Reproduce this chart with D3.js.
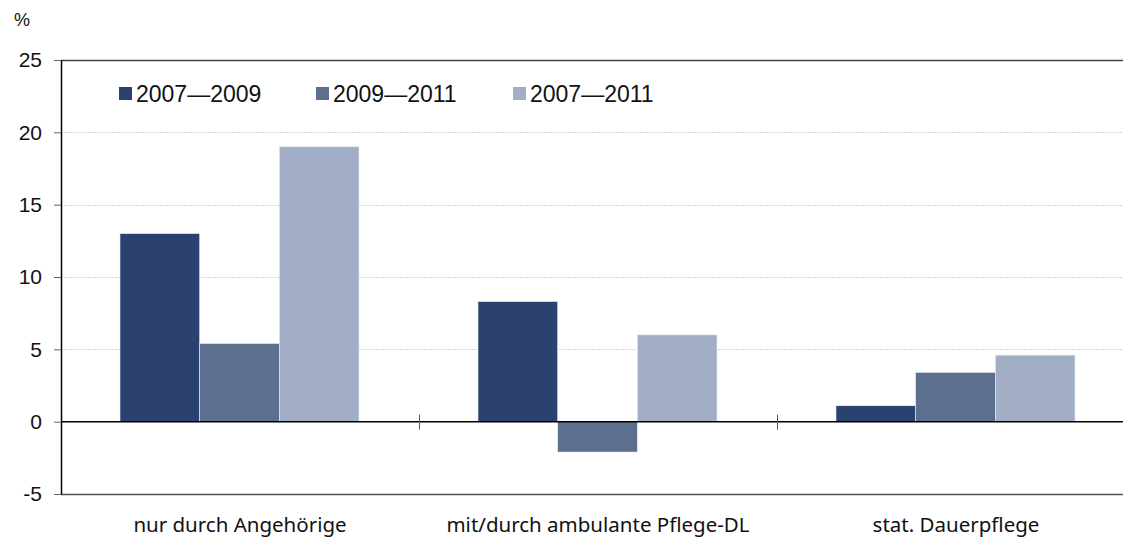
<!DOCTYPE html>
<html lang="de">
<head>
<meta charset="UTF-8">
<title>Veränderung nach Versorgungsart</title>
<style>
  body { margin: 0; background: #fff; }
  svg { display: block; }
  .tick text { font-family: "Liberation Sans", Arial, sans-serif; }
</style>
</head>
<body>
<svg width="1123" height="538"></svg>
<script src="https://d3js.org/d3.v7.min.js"></script>
<script>

var categories = ["nur durch Angehörige", "mit/durch ambulante Pflege-DL", "stat. Dauerpflege"];
var seriesNames = ["2007\u20142009", "2009\u20142011", "2007\u20142011"];
var values0709 = [13.0, 8.3, 1.1];
var values0911 = [5.4, -2.1, 3.4];
var values0711 = [19.0, 6.0, 4.6];
var yTicks = [-5, 0, 5, 10, 15, 20, 25];
var colors = ["#2b4170", "#5d6f8f", "#a2aec5"];

var svg = d3.select("svg");
var plotL = 61, plotR = 1135, plotT = 60, plotB = 494;

var x = d3.scaleBand().domain(categories).range([plotL, plotR]).paddingInner(0).paddingOuter(0);
var x1 = d3.scaleBand().domain(seriesNames).range([59, 298]);   // bars inside each group
var y = d3.scaleLinear().domain([-5, 25]).range([plotB, plotT]);

var rows = categories.map(function(c, i) {
    return { cat: c, vals: [values0709[i], values0911[i], values0711[i]] };
});

// dotted grid
svg.append("g").selectAll("line")
    .data([5, 10, 15, 20])
    .enter().append("line")
    .attr("x1", plotL).attr("x2", plotR)
    .attr("y1", function(d) { return Math.round(y(d)) + 0.5; })
    .attr("y2", function(d) { return Math.round(y(d)) + 0.5; })
    .attr("stroke", "#d4d4d4")
    .attr("stroke-dasharray", "2,1");

// bars
var groups = svg.append("g").selectAll("g")
    .data(rows)
    .enter().append("g")
    .attr("transform", function(d) { return "translate(" + x(d.cat) + ",0)"; });

groups.selectAll("rect")
    .data(function(d) { return d.vals.map(function(v, j) { return { s: seriesNames[j], v: v, j: j }; }); })
    .enter().append("rect")
    .attr("x", function(d) { return x1(d.s); })
    .attr("width", x1.bandwidth())
    .attr("y", function(d) { return y(Math.max(0, d.v)); })
    .attr("height", function(d) { return Math.abs(y(d.v) - y(0)); })
    .attr("fill", function(d) { return colors[d.j]; })
    .attr("stroke", "#e8ecf3")
    .attr("stroke-width", 0.6);

// frame lines
svg.append("line").attr("x1", plotL).attr("x2", plotR).attr("y1", plotT + 0.5).attr("y2", plotT + 0.5)
    .attr("stroke", "#444").attr("stroke-width", 1.5);
svg.append("line").attr("x1", plotL).attr("x2", plotR).attr("y1", plotB + 0.5).attr("y2", plotB + 0.5)
    .attr("stroke", "#555").attr("stroke-width", 1.5);
svg.append("line").attr("x1", plotL).attr("x2", plotR).attr("y1", y(0)).attr("y2", y(0))
    .attr("stroke", "#000").attr("stroke-width", 1.5);

// group separator ticks on the zero line
svg.append("g").selectAll("line")
    .data(categories.slice(1))
    .enter().append("line")
    .attr("x1", function(d) { return x(d) + 0.5; })
    .attr("x2", function(d) { return x(d) + 0.5; })
    .attr("y1", y(0) - 7).attr("y2", y(0) + 8)
    .attr("stroke", "#555").attr("stroke-width", 1);

// y axis
var yAxis = svg.append("g")
    .attr("transform", "translate(" + plotL + ",0)")
    .call(d3.axisLeft(y).tickValues(yTicks).tickSize(7).tickPadding(12).tickSizeOuter(0)
        .tickFormat(function(d) { return String(d); }));
yAxis.select(".domain").attr("stroke", "#000").attr("stroke-width", 1.5);
yAxis.selectAll(".tick line").attr("stroke", "#666");
yAxis.selectAll(".tick text").attr("font-size", "21px").attr("fill", "#111");

svg.append("text").attr("x", 14).attr("y", 26)
    .attr("font-family", "Liberation Sans, Arial, sans-serif")
    .attr("font-size", "18px").attr("fill", "#111").text("%");

// category labels
svg.append("g").selectAll("text")
    .data(categories)
    .enter().append("text")
    .attr("x", function(d) { return x(d) + x.bandwidth() / 2; })
    .attr("y", 532)
    .attr("text-anchor", "middle")
    .attr("font-family", "Noto Sans, sans-serif")
    .attr("font-size", "20.5px").attr("fill", "#111")
    .text(function(d) { return d; });

// legend
var legend = svg.append("g").selectAll("g")
    .data(seriesNames)
    .enter().append("g")
    .attr("transform", function(d, i) { return "translate(" + (119 + i * 197) + ",87)"; });
legend.append("rect").attr("width", 13).attr("height", 13)
    .attr("fill", function(d, i) { return colors[i]; });
legend.append("text").attr("x", 17).attr("y", 14.5)
    .attr("font-family", "Liberation Sans, Arial, sans-serif")
    .attr("font-size", "23px").attr("fill", "#111")
    .text(function(d) { return d; });

</script>
</body>
</html>
